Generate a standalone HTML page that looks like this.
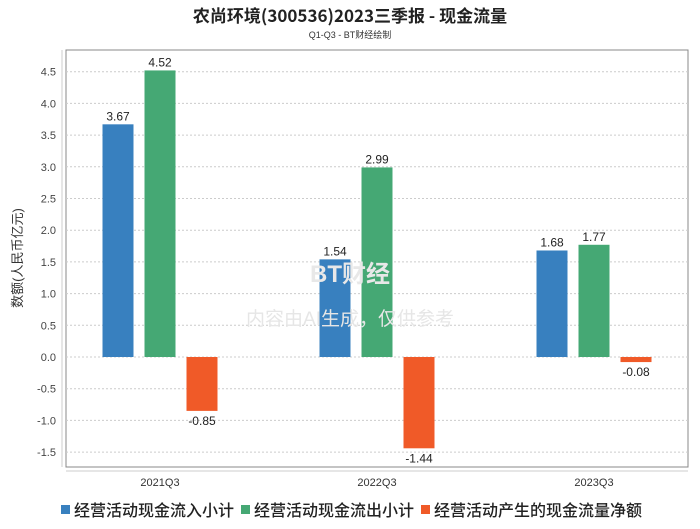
<!DOCTYPE html>
<html><head><meta charset="utf-8"><style>
body{margin:0;background:#fff;width:700px;height:524px;overflow:hidden;font-family:"Liberation Sans","Noto Sans CJK SC",sans-serif;}
</style></head><body>
<svg width="700" height="524" xmlns="http://www.w3.org/2000/svg" id="chart">
<text x="350" y="22" text-anchor="middle" font-size="17" font-weight="bold" fill="#222" font-family="Noto Sans CJK SC,sans-serif">农尚环境(300536)2023三季报 - 现金流量</text>
<text x="350" y="38" text-anchor="middle" font-size="9" fill="#333">Q1-Q3 - BT财经绘制</text>
<rect x="66" y="50" width="622" height="417" fill="none" stroke="#888"/>
<line x1="62" y1="50" x2="62" y2="467" stroke="#ccc"/>
<line x1="66" y1="471" x2="688" y2="471" stroke="#ccc"/>
<text transform="translate(22,258) rotate(-90)" text-anchor="middle" font-size="13" fill="#333">数额(人民币亿元)</text>
<g id="grid"></g><g id="bars"></g>
<text x="350" y="282" text-anchor="middle" font-size="24" fill="#e8e8e8" font-weight="bold">BT财经</text>
<text x="350" y="325" text-anchor="middle" font-size="19" fill="#e6e6e6">内容由AI生成，仅供参考</text>
<g id="legend"></g>
</svg>
<script>
const categories=["2021Q3","2022Q3","2023Q3"];
const inflow=[3.67,1.54,1.68];
const outflow=[4.52,2.99,1.77];
const net=[-0.85,-1.44,-0.08];
const yTicks=[4.5,4.0,3.5,3.0,2.5,2.0,1.5,1.0,0.5,0.0,-0.5,-1.0,-1.5];
const seriesNames=["经营活动现金流入小计","经营活动现金流出小计","经营活动产生的现金流量净额"];
const colors=["#3880bf","#45a874","#f05a28"];
const NS="http://www.w3.org/2000/svg";
const y=v=>357-v*63.4;
const xc=i=>160+217*i;
function mk(t,a,p){const e=document.createElementNS(NS,t);for(const k in a)e.setAttribute(k,a[k]);p.appendChild(e);return e;}
const grid=document.getElementById('grid');
yTicks.forEach(v=>{
 const l=mk('line',{x1:66,x2:688,y1:y(v),y2:y(v),stroke:'#ccc','stroke-dasharray':'2,2'},grid);
 
 
 const t=mk('text',{x:56,y:y(v)+4,'text-anchor':'end','font-size':11,fill:'#444'},grid);
 t.textContent=v.toFixed(1);
 
 
});
const bars=document.getElementById('bars');
const series=[inflow,outflow,net];
categories.forEach((c,i)=>{
 const t=mk('text',{x:xc(i),y:486,'text-anchor':'middle','font-size':11,fill:'#333'},bars);
 t.textContent=c;
 
 
 series.forEach((s,j)=>{
  const v=s[i];const cx=xc(i)+(j-1)*42;
  const top=Math.min(y(v),y(0)),h=Math.abs(y(v)-y(0));
  const r=mk('rect',{x:cx-15.5,y:top,width:31,height:h,fill:colors[j]},bars);
  
  
  const lt=mk('text',{x:cx,y:v>=0?y(v)-4:y(v)+14,'text-anchor':'middle','font-size':12,fill:'#222'},bars);
  lt.textContent=v.toFixed(2);
  
  
 });
});
const lg=document.getElementById('legend');
const lx=[61,241,421];
seriesNames.forEach((n,j)=>{
 const r=mk('rect',{x:lx[j],y:505,width:9,height:9,fill:colors[j]},lg);
 
 
 const t=mk('text',{x:lx[j]+13,y:516,'font-size':16,'font-weight':'500',fill:'#222','font-family':'Noto Sans CJK SC,sans-serif'},lg);
 t.textContent=n;
 
 
});
</script>
</body></html>
